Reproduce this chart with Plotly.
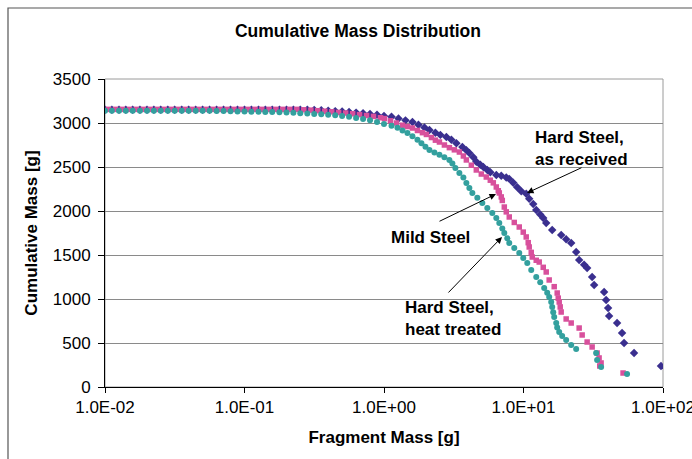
import plotly.graph_objects as go

# ---------------- data ----------------
flat_mass_a = [0.0100, 0.0112, 0.0126, 0.0141, 0.0158, 0.0178, 0.0200, 0.0224, 0.0251, 0.0282,
               0.0316, 0.0355, 0.0398, 0.0447, 0.0501, 0.0562, 0.0631, 0.0708, 0.0794, 0.0891,
               0.100, 0.112, 0.126, 0.141, 0.158, 0.178, 0.200, 0.224, 0.251, 0.282,
               0.316, 0.355, 0.398, 0.447, 0.501, 0.562, 0.631, 0.708, 0.794, 0.891, 1.00]
flat_mass_b = [0.0106, 0.0119, 0.0133, 0.0150, 0.0168, 0.0188, 0.0211, 0.0237, 0.0266, 0.0299,
               0.0335, 0.0376, 0.0422, 0.0473, 0.0531, 0.0596, 0.0668, 0.0750, 0.0841, 0.0944,
               0.106, 0.119, 0.133, 0.150, 0.168, 0.188, 0.211, 0.237, 0.266, 0.299,
               0.335, 0.376, 0.422, 0.473, 0.531, 0.596, 0.668, 0.750, 0.841, 0.944]

# Hard Steel, as received
hs_recv_mass = flat_mass_a + [
    1.132, 1.270, 1.425, 1.599, 1.766, 1.949, 2.117, 2.336, 2.537, 2.800,
    3.041, 3.303, 3.646, 3.894, 4.091, 4.370, 4.590, 4.903, 5.152, 5.503,
    5.782, 6.383, 6.930, 7.526, 7.907, 8.447, 9.022, 9.636, 10.46, 10.99,
    11.74, 12.34, 13.18, 13.85, 14.55, 16.06, 18.63, 20.22, 21.97, 23.85,
    25.06, 27.21, 28.59, 31.05, 32.09, 37.83, 39.10, 40.40, 41.08, 46.87,
    50.89, 52.59, 62.01, 96.76]
hs_recv_cum = [3150] * 29 + [3150, 3148, 3145, 3140, 3135, 3130, 3125, 3118, 3110, 3102, 3093, 3080] + [
    3070, 3050, 3030, 3011, 2980, 2950, 2920, 2890, 2865, 2841,
    2810, 2770, 2727, 2690, 2660, 2610, 2560, 2525, 2500, 2465,
    2440, 2409, 2400, 2380, 2365, 2320, 2270, 2225, 2195, 2140,
    2080, 2011, 1960, 1920, 1864, 1784, 1727, 1680, 1636, 1534,
    1443, 1390, 1352, 1250, 1159, 1080, 989, 898, 807, 727,
    614, 500, 386, 239]

# Mild Steel
mild_mass = flat_mass_b + [
    1.008, 1.113, 1.229, 1.357, 1.473, 1.599, 1.737, 1.886, 2.014, 2.187,
    2.336, 2.496, 2.710, 2.942, 3.195, 3.470, 3.706, 3.894, 4.228, 4.590,
    4.985, 5.413, 5.782, 6.075, 6.383, 6.596, 6.706, 6.930, 7.046, 7.284,
    7.526, 7.907, 8.588, 9.325, 9.959, 10.46, 10.81, 10.99, 11.36, 11.55,
    12.34, 12.96, 13.85, 14.55, 15.28, 16.60, 17.44, 17.74, 18.03, 18.33,
    18.63, 20.22, 21.97, 25.06, 26.33, 28.59, 31.05, 33.71, 34.83, 36.00,
    35.20, 51.72]
mild_cum = [3155] * 28 + [3150, 3146, 3140, 3134, 3127, 3120, 3113, 3105, 3095, 3085, 3075, 3060] + [
    3050, 3025, 3000, 2975, 2960, 2943, 2915, 2890, 2870, 2835,
    2805, 2784, 2750, 2720, 2695, 2670, 2625, 2580, 2520, 2466,
    2420, 2386, 2350, 2320, 2273, 2230, 2205, 2160, 2120, 2045,
    1990, 1932, 1870, 1818, 1760, 1705, 1640, 1591, 1530, 1477,
    1440, 1420, 1360, 1307, 1216, 1140, 1068, 1010, 966, 910,
    852, 773, 727, 670, 591, 511, 455, 386, 330, 273,
    239, 159]

# Hard Steel, heat treated
hs_heat_mass = flat_mass_a + [
    1.132, 1.249, 1.357, 1.473, 1.599, 1.737, 1.855, 1.982, 2.117, 2.298,
    2.496, 2.710, 2.942, 3.092, 3.249, 3.470, 3.706, 3.894, 4.091, 4.299,
    4.668, 5.069, 5.503, 5.975, 6.383, 6.706, 7.046, 7.284, 7.651, 7.907,
    8.588, 9.325, 9.959, 10.64, 11.36, 12.34, 13.18, 14.07, 14.79, 15.28,
    15.80, 16.06, 16.33, 16.60, 17.16, 17.44, 18.03, 18.93, 20.22, 21.97,
    23.85, 33.16, 33.71, 36.00, 55.26]
hs_heat_cum = [3140] * 15 + [3138, 3137, 3135, 3133, 3131, 3130, 3128, 3127, 3126, 3125,
                             3123, 3120, 3117, 3112, 3108, 3103, 3099, 3094, 3088, 3080,
                             3072, 3058, 3045, 3030, 3010, 2990] + [
    2970, 2945, 2915, 2885, 2850, 2810, 2770, 2730, 2693, 2665,
    2640, 2610, 2580, 2540, 2490, 2432, 2380, 2318, 2260, 2205,
    2150, 2091, 2035, 1977, 1920, 1864, 1800, 1750, 1690, 1636,
    1580, 1523, 1465, 1409, 1330, 1250, 1190, 1125, 1070, 1023,
    965, 909, 850, 795, 727, 675, 625, 580, 534, 477,
    432, 386, 307, 227, 148]

x_tickvals = [0.01, 0.1, 1, 10, 100]
x_ticktext = ["1.0E-02", "1.0E-01", "1.0E+00", "1.0E+01", "1.0E+02"]
y_tickvals = [0, 500, 1000, 1500, 2000, 2500, 3000, 3500]

# ---------------- figure ----------------
FONT = "Arial, Liberation Sans, sans-serif"
fig = go.Figure()
fig.add_trace(go.Scatter(x=hs_recv_mass, y=hs_recv_cum, mode="markers",
                         name="Hard Steel, as received",
                         marker=dict(symbol="diamond", size=6.5, color="#3A2F8F")))
fig.add_trace(go.Scatter(x=mild_mass, y=mild_cum, mode="markers", name="Mild Steel",
                         marker=dict(symbol="square", size=5.5, color="#D8509C")))
fig.add_trace(go.Scatter(x=hs_heat_mass, y=hs_heat_cum, mode="markers",
                         name="Hard Steel, heat treated",
                         marker=dict(symbol="circle", size=6, color="#33A09E")))

fig.update_layout(
    width=692, height=459,
    margin=dict(l=105, r=29, t=79, b=72, autoexpand=False),
    paper_bgcolor="white", plot_bgcolor="white",
    showlegend=False,
    font=dict(family=FONT, size=17, color="black"),
    title=dict(text="<b>Cumulative Mass Distribution</b>", x=358 / 692, xanchor="center",
               xref="container", y=1 - 31 / 459, yanchor="middle", yref="container",
               font=dict(size=17.5, family=FONT, color="black")),
)
fig.update_xaxes(type="log", range=[-2, 2], tickvals=x_tickvals, ticktext=x_ticktext,
                 automargin=False,
                 showgrid=False, showline=True, linecolor="black", linewidth=1,
                 ticks="outside", ticklen=5, tickcolor="black",
                 tickfont=dict(size=17, family=FONT), ticklabeloverflow="allow",
                 title=dict(text="<b>Fragment Mass [g]</b>", standoff=14,
                            font=dict(size=17, family=FONT)),
                 zeroline=False)
fig.update_yaxes(range=[0, 3500], tickvals=y_tickvals, automargin=False,
                 showgrid=True, gridcolor="#8a8a8a", gridwidth=1,
                 showline=True, linecolor="black", linewidth=1,
                 ticks="outside", ticklen=6, tickcolor="black",
                 tickfont=dict(size=17, family=FONT), ticklabelstandoff=4,
                 title=dict(text="<b>Cumulative Mass [g]</b>", standoff=10,
                            font=dict(size=17, family=FONT)),
                 zeroline=False)

# plot-area border (grey) and outer chart frame
fig.add_shape(type="rect", xref="paper", yref="paper", x0=0, x1=1, y0=0, y1=1,
              line=dict(color="#9a9a9a", width=1), layer="below")
fig.add_shape(type="rect", xref="paper", yref="paper",
              x0=(8 - 105) / 558, x1=(720 - 105) / 558,
              y0=(387 - 480) / 308, y1=(387 - 8) / 308,
              line=dict(color="#555555", width=1.2), layer="below")

# labels
def label(text, px, py, anchor="left"):
    fig.add_annotation(text=text, xref="paper", yref="paper",
                       x=(px - 105) / 558, y=(387 - py) / 308,
                       xanchor=anchor, yanchor="middle", showarrow=False, align="left",
                       font=dict(size=17, family=FONT, color="black"))

label("<b>Hard Steel,<br>as received</b>", 533, 148)
label("<b>Mild Steel</b>", 389, 237)
label("<b>Hard Steel,<br>heat treated</b>", 403, 318)

def arrow(head_px, head_py, tail_px, tail_py):
    fig.add_annotation(text="", xref="paper", yref="paper",
                       x=(head_px - 105) / 558, y=(387 - head_py) / 308,
                       ax=tail_px - head_px, ay=tail_py - head_py,
                       axref="pixel", ayref="pixel",
                       showarrow=True, arrowhead=2, arrowsize=1.3, arrowwidth=1,
                       arrowcolor="black")

arrow(527, 193, 583, 167)
arrow(496, 194, 438, 222)
arrow(502, 237, 447, 294)

fig.write_html("out.html")
